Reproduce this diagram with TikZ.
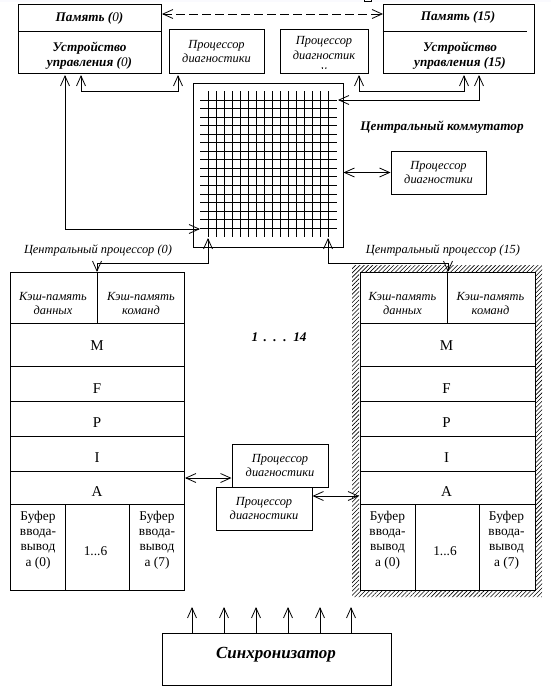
\documentclass[tikz,border=0pt]{standalone}
\usepackage{fontspec}
\setmainfont{Liberation Serif}
\usetikzlibrary{arrows.meta,patterns.meta}
\tikzset{
    barb/.tip={Straight Barb[length=10pt,width=9pt,line width=0.8pt]},
    box/.style={draw,line width=1pt,fill=white,inner sep=0pt,align=center},
    lbl/.style={inner sep=0pt,align=center},
    diag/.style={font=\itshape\fontsize{12.4}{14.8}\selectfont},
    strong/.style={font=\bfseries\itshape\fontsize{13.2}{15}\selectfont},
    plain/.style={font=\fontsize{13.4}{15.2}\selectfont},
    thin line/.style={line width=1pt},
    conn/.style={line width=0.9pt,barb-barb},
    up conn/.style={line width=0.9pt,-barb}
}
\begin{document}
\begin{tikzpicture}[x=1pt,y=-1pt]
    \useasboundingbox (0,0) rectangle (551,693);
    \fill[black!10!blue!2!white] (0,0) rectangle (551,2.5);
    \draw[thin line,fill=white] (364.5,-3) rectangle (371.5,2);

    % Memory and control units
    \node[box,minimum width=143pt,minimum height=27pt] (mem0) at (89.5,18.5) {};
    \node[box,minimum width=143pt,minimum height=41pt] (uu0) at (89.5,52.5) {};
    \node[lbl,strong] at (mem0) {Память (\textit{\mdseries 0})};
    \node[lbl,strong] at (89.5,55.5) {Устройство\\управления (\textit{\mdseries 0})};
    \node[box,minimum width=151pt,minimum height=68pt] (uu15) at (458.5,39) {};
    \draw[thin line] (uu15.west |- 0,32) -- (527,32);
    \node[lbl,strong] at (458,17.5) {Память (15)};
    \node[lbl,strong] at (460,55.5) {Устройство\\управления (15)};

    % Diagnostic processors
    \node[box,diag,minimum width=95pt,minimum height=43pt] (pd1) at (216.5,51.5) {Процессор\\диагностики};
    \node[box,minimum width=88pt,minimum height=43pt] (pd2) at (324,51.5) {};
    \begin{scope}
        \clip (281,31) rectangle (367,69);
        \node[lbl,diag,anchor=north] at (324,36) {Процессор\\диагностик\\и};
    \end{scope}
    \node[box,diag,minimum width=95pt,minimum height=43pt] (pd3) at (438.5,172.5) {Процессор\\диагностики};

    % Central switch
    \node[box,minimum width=150pt,minimum height=164pt] (comm) at (268,165) {};
    \foreach \i in {0,...,15} {
        \draw[line width=1pt] (208+8*\i,91) -- (208+8*\i,237);
        \draw[line width=1pt] (200,100+8.55*\i) -- (337,100+8.55*\i);
    }
    \node[lbl,strong] at (442,127) {Центральный коммутатор};
    \node[lbl,diag] at (98,250) {Центральный процессор (0)};
    \node[lbl,diag] at (443,250) {Центральный процессор (15)};

    % Hatched frame
    \path[pattern={Lines[angle=45,distance=3pt,line width=0.6pt]},even odd rule]
        (352,265) rectangle (542,597) (359,272) rectangle (534,590);

    % Processors
    \foreach \dx/\id/\cw in {0/a/174,349.5/b/175} {
        \begin{scope}[xshift=\dx pt]
            \node[box,minimum width=\cw pt,minimum height=318pt,anchor=north west] (cpu\id) at (10,272) {};
            \foreach \yy in {323,366,401,436,471,504}
                \draw[thin line] (10,\yy) -- (10+\cw,\yy);
            \draw[thin line] (97.5,272) -- (97.5,323);
            \draw[thin line] (65.5,504) -- (65.5,590);
            \draw[thin line] (129.5,504) -- (129.5,590);
            \node[lbl,diag] at (53,303.5) {Кэш-память\\данных};
            \node[lbl,diag] at (141,303.5) {Кэш-память\\команд};
            \foreach \yy/\letter in {346/M,389/F,423/P,458/I,492/A}
                \node[lbl,font=\fontsize{15}{15}\selectfont] at (97,\yy) {\letter};
            \node[lbl,plain] at (38,540) {Буфер\\ввода-\\вывод\\а (0)};
            \node[lbl,plain] at (95.5,551) {1...6};
            \node[lbl,plain] at (157,540) {Буфер\\ввода-\\вывод\\а (7)};
        \end{scope}
    }
    \node[lbl,strong] at (279,337) {1 \,.\, .\, .\, 14};

    % Diagnostic processors between the CPUs
    \node[box,diag,minimum width=96pt,minimum height=43pt] (pd4) at (280,465.5) {Процессор\\диагностики};
    \node[box,diag,minimum width=96pt,minimum height=43pt] (pd5) at (264,508.5) {Процессор\\диагностики};

    % Synchronizer
    \node[box,minimum width=229pt,minimum height=52pt] (sync) at (276.5,659) {};
    \node[lbl,font=\bfseries\itshape\fontsize{17}{17}\selectfont] at (276,655) {Синхронизатор};
    \foreach \xx in {192,224,256,288,320,351}
        \draw[up conn] (\xx,633) -- (\xx,607);

    % Ports
    \coordinate (uu0a) at (65,75);
    \coordinate (uu0b) at (81,75);
    \coordinate (pd1s) at (178,75);
    \coordinate (pd2s) at (359,75);
    \coordinate (uu15a) at (464,75);
    \coordinate (uu15b) at (479,75);
    \coordinate (commW) at (200,229);
    \coordinate (commE) at (338,100);
    \coordinate (commSa) at (208,238);
    \coordinate (commSb) at (328,238);
    \coordinate (cpuaN) at (97,272);
    \coordinate (cpubN) at (448,272);

    % Connections
    \draw[conn,dash pattern=on 9pt off 4pt] (162,14) -- (383,14);
    \draw[conn] (uu0a) |- (commW);
    \draw[conn] (uu0b) -- ++(0,16) -| (pd1s);
    \draw[conn] (pd2s) -- ++(0,16) -| (uu15a);
    \draw[conn] (uu15b) |- (commE);
    \draw[conn] (commSa) -- ++(0,25) -| (cpuaN);
    \draw[conn] (commSb) -- ++(0,25) -| (cpubN);
    \draw[conn] (comm.east |- pd3) -- (pd3.west);
    \draw[conn] (185,478) -- (pd4.west |- 0,478);
    \draw[conn] (pd5.east |- 0,496) -- (359,496);
\end{tikzpicture}
\end{document}
